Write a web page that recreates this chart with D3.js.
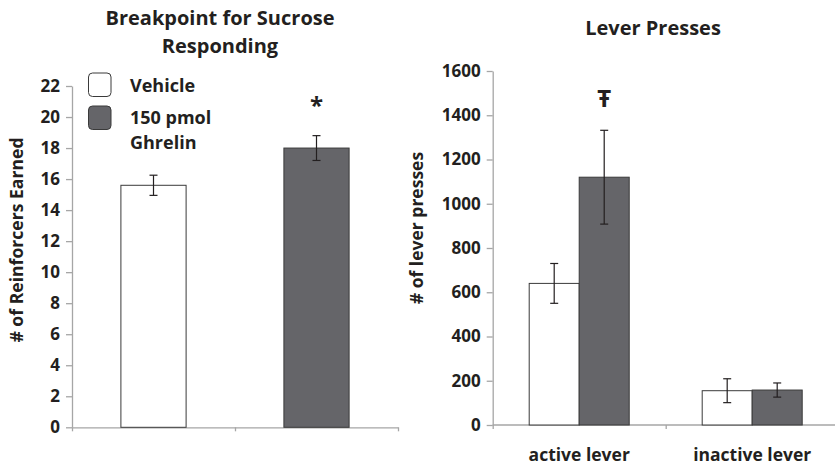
<!DOCTYPE html>
<html><head><meta charset="utf-8">
<script src="https://cdn.jsdelivr.net/npm/d3@7"></script>
<style>body{margin:0;background:#fff}svg{display:block}text{font-family:"Open Sans",Lato,sans-serif;font-weight:bold;fill:#231f20}</style>
</head><body>
<script>
// Left panel data
const leftGroups = ["Vehicle", "150 pmol Ghrelin"];
const leftMeans = [15.6, 18.0];
const leftErr = [0.65, 0.8];
const leftTicks = [0,2,4,6,8,10,12,14,16,18,20,22];
// Right panel data
const rightCategories = ["active lever", "inactive lever"];
const rightSeries = ["Vehicle", "150 pmol Ghrelin"];
const vehicleValues = [640, 155];
const vehicleErr = [90, 54];
const ghrelinValues = [1120, 158];
const ghrelinErr = [212, 32];
const rightTicks = [0,200,400,600,800,1000,1200,1400,1600];
const colors = ["#ffffff", "#656569"];

const W=835,H=466;
const svg=d3.select("body").append("svg").attr("width",W).attr("height",H);
const axisColor="#a6a6a6";

function styleAxis(g){
  g.selectAll("path,line").attr("stroke",axisColor).attr("stroke-width",1.3);
  g.selectAll("text").attr("fill","#231f20").style("font-size","17px").style("font-weight","bold").style("font-family",'"Open Sans",Lato,sans-serif');
}

// ---------- LEFT ----------
const L={x0:72,x1:398,y0:427.3,y1:86};
const ly=d3.scaleLinear().domain([0,22]).range([L.y0,L.y1]);
const lx=d3.scaleBand().domain(leftGroups).range([L.x0,L.x1]).paddingInner(0.6).paddingOuter(0.3);
const lxAxisScale=d3.scaleLinear().domain([0,2]).range([L.x0,L.x1]);

const gly=svg.append("g").attr("transform",`translate(${L.x0},0)`)
  .call(d3.axisLeft(ly).tickValues(leftTicks).tickFormat(d3.format("d")).tickSize(6).tickPadding(6).tickSizeOuter(0));
styleAxis(gly);
const glx=svg.append("g").attr("transform",`translate(0,${L.y0})`)
  .call(d3.axisBottom(lxAxisScale).tickValues([0,1,2]).tickSize(4).tickFormat("").tickSizeOuter(0));
styleAxis(glx);

svg.selectAll("rect.lbar").data(leftGroups).enter().append("rect")
  .attr("x",d=>lx(d)).attr("width",lx.bandwidth())
  .attr("y",(d,i)=>ly(leftMeans[i])).attr("height",(d,i)=>L.y0-ly(leftMeans[i]))
  .attr("fill",(d,i)=>colors[i]).attr("stroke","#3a3a3a").attr("stroke-width",1);

function errBar(g,cx,mean,err,y,cap){
  g.append("line").attr("x1",cx).attr("x2",cx).attr("y1",y(mean+err)).attr("y2",y(mean-err)).attr("stroke","#231f20").attr("stroke-width",1.2);
  [mean+err,mean-err].forEach(v=>g.append("line").attr("x1",cx-cap).attr("x2",cx+cap).attr("y1",y(v)).attr("y2",y(v)).attr("stroke","#231f20").attr("stroke-width",1.2));
}
const eg=svg.append("g");
leftGroups.forEach((d,i)=>errBar(eg,lx(d)+lx.bandwidth()/2,leftMeans[i],leftErr[i],ly,4));

svg.append("text").attr("x",lx(leftGroups[1])+lx.bandwidth()/2).attr("y",ly(18)-34).attr("text-anchor","middle").style("font-size","24px").text("*");

// title left
svg.append("text").attr("x",220).attr("y",25).attr("text-anchor","middle").style("font-size","20px").text("Breakpoint for Sucrose");
svg.append("text").attr("x",220).attr("y",53).attr("text-anchor","middle").style("font-size","20px").text("Responding");
// y label left
svg.append("text").attr("transform","translate(23,240) rotate(-90)").attr("text-anchor","middle").style("font-size","17.6px").text("# of Reinforcers Earned");

// legend
const legend=svg.append("g");
leftGroups.forEach((d,i)=>{
  legend.append("rect").attr("x",88.5).attr("y",73+i*33).attr("width",22.5).attr("height",23.5).attr("rx",4)
    .attr("fill",colors[i]).attr("stroke","#3a3a3a").attr("stroke-width",1);
});
legend.append("text").attr("x",130).attr("y",92).style("font-size","18px").text("Vehicle");
legend.append("text").attr("x",130).attr("y",124).style("font-size","18px").text("150 pmol");
legend.append("text").attr("x",130).attr("y",149).style("font-size","18px").text("Ghrelin");

// ---------- RIGHT ----------
const R={x0:492.7,x1:838.7,y0:425,y1:71};
const ry=d3.scaleLinear().domain([0,1600]).range([R.y0,R.y1]);
const rx=d3.scaleBand().domain(rightCategories).range([R.x0,R.x1]).paddingInner(0.4219).paddingOuter(0.2110);
const rxAxisScale=d3.scaleLinear().domain([0,2]).range([R.x0,R.x1]);
const rsub=d3.scaleBand().domain(rightSeries).range([0,rx.bandwidth()]);

const gry=svg.append("g").attr("transform",`translate(${R.x0},0)`)
  .call(d3.axisLeft(ry).tickValues(rightTicks).tickFormat(d3.format("d")).tickSize(6).tickPadding(6).tickSizeOuter(0));
styleAxis(gry);
const grx=svg.append("g").attr("transform",`translate(0,${R.y0})`)
  .call(d3.axisBottom(rxAxisScale).tickValues([0,1]).tickSize(4).tickFormat("").tickSizeOuter(0));
styleAxis(grx);
grx.select("path").attr("d",`M${R.x0},0H${W}`);

const seriesVals=[vehicleValues,ghrelinValues];
const seriesErr=[vehicleErr,ghrelinErr];
rightSeries.forEach((s,si)=>{
  svg.selectAll("rect.r"+si).data(rightCategories).enter().append("rect")
    .attr("x",c=>rx(c)+rsub(s)).attr("width",rsub.bandwidth())
    .attr("y",(c,ci)=>ry(seriesVals[si][ci])).attr("height",(c,ci)=>R.y0-ry(seriesVals[si][ci]))
    .attr("fill",colors[si]).attr("stroke","#3a3a3a").attr("stroke-width",1);
});
const eg2=svg.append("g");
rightSeries.forEach((s,si)=>rightCategories.forEach((c,ci)=>
  errBar(eg2,rx(c)+rsub(s)+rsub.bandwidth()/2,seriesVals[si][ci],seriesErr[si][ci],ry,4)));

svg.append("text").attr("x",rx(rightCategories[0])+rsub(rightSeries[1])+rsub.bandwidth()/2).attr("y",107)
  .attr("text-anchor","middle").style("font-size","24px").text("Ŧ");

svg.append("text").attr("x",653).attr("y",35).attr("text-anchor","middle").style("font-size","20px").text("Lever Presses");
svg.append("text").attr("transform","translate(423,228) rotate(-90)").attr("text-anchor","middle").style("font-size","17.5px").text("# of lever presses");

rightCategories.forEach(c=>{
  svg.append("text").attr("x",rx(c)+rx.bandwidth()/2).attr("y",461).attr("text-anchor","middle").style("font-size","17.5px").text(c);
});
</script>
</body></html>
